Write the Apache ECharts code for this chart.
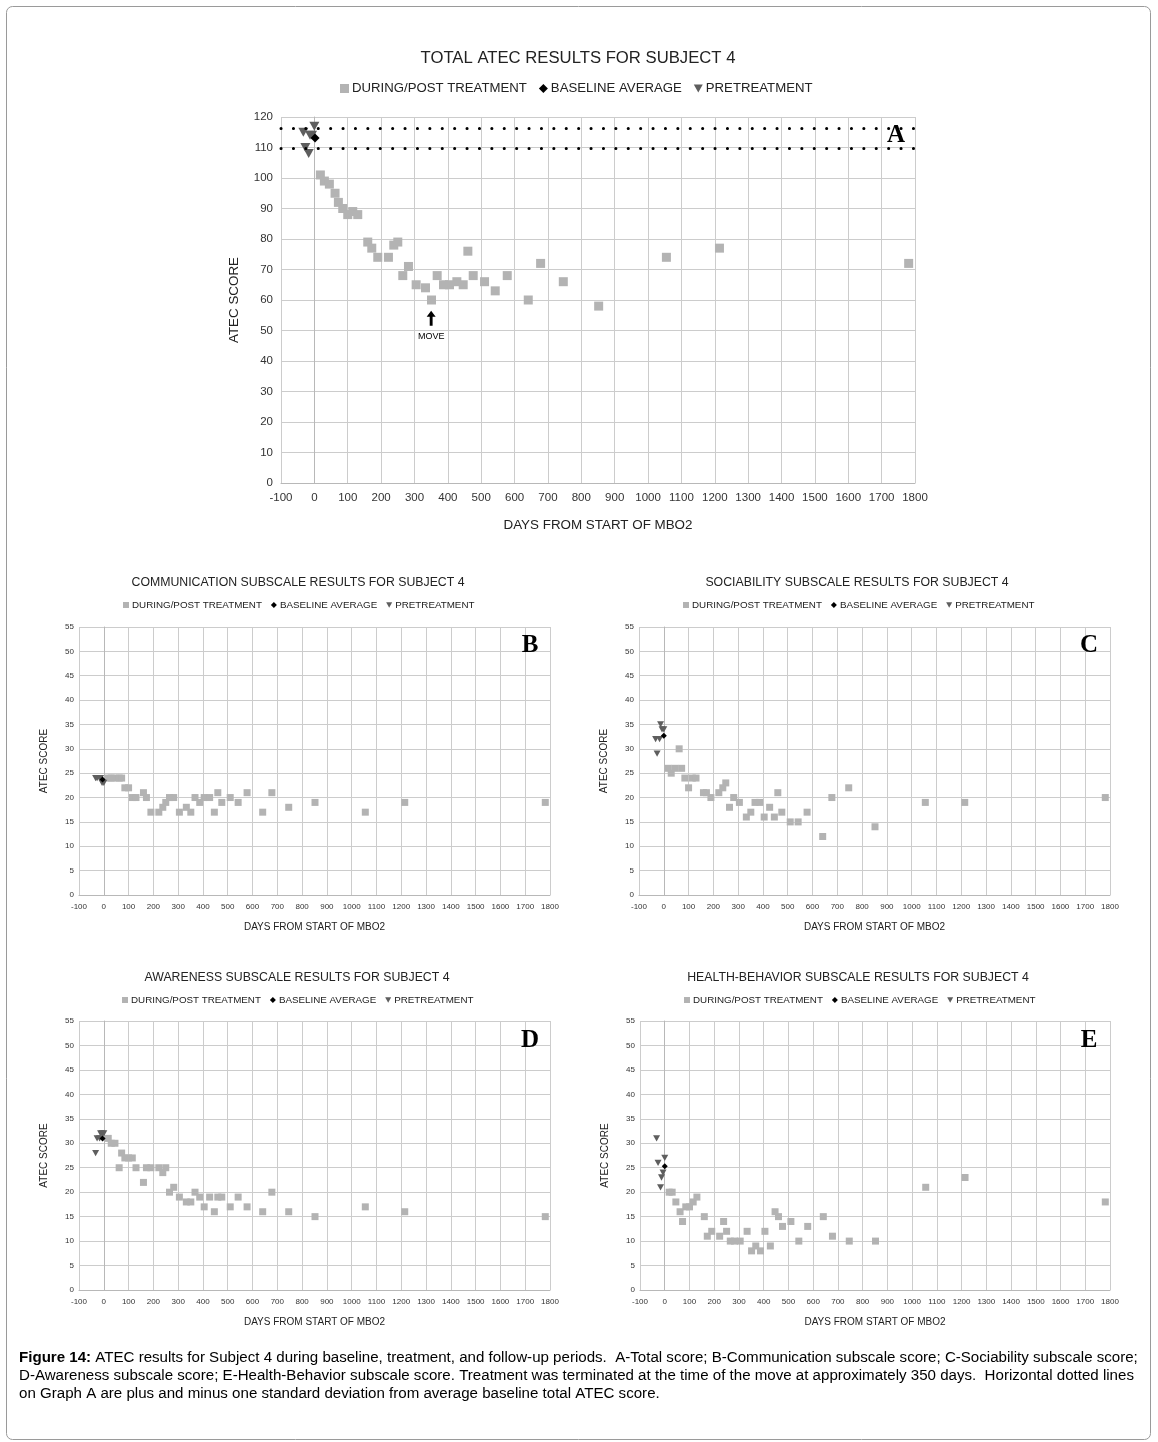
<!DOCTYPE html>
<html><head><meta charset="utf-8">
<script src="https://cdn.jsdelivr.net/npm/echarts@6/dist/echarts.min.js"></script>
<style>html,body{margin:0;padding:0;background:#fff}#c{width:1158px;height:1442px}</style>
</head><body><div id="c"></div>
<script>
// ---- data (days from start of MBO2) ----
const days = [18,30,45,62,72,85,100,115,130,160,172,190,222,238,250,265,282,305,333,351,368,387,405,427,446,460,476,510,542,578,641,678,746,852,1055,1214,1781];
const totalScore     = [101,99,98,95,92,90,88,89,88,79,77,74,74,78,79,68,71,65,64,60,68,65,65,66,65,76,68,66,63,68,60,72,66,58,74,77,72];
const communication  = [24,24,24,24,24,22,22,20,20,21,20,17,17,18,19,20,20,17,18,17,20,19,20,20,17,21,19,20,19,21,17,21,18,19,17,19,19];
const sociability    = [26,25,26,30,26,24,22,24,24,21,21,20,21,22,23,18,20,19,16,17,19,19,16,18,16,21,17,15,15,17,12,20,22,14,19,19,20];
const awareness      = [31,30,30,25,28,27,27,27,25,22,25,25,25,24,25,20,21,19,18,18,20,19,17,19,16,19,19,17,19,17,16,20,16,15,17,16,15];
const healthBehavior = [20,20,18,16,14,17,17,18,19,15,11,12,11,14,12,10,10,10,12,8,9,8,12,9,16,15,13,14,10,13,15,11,10,10,21,23,18];

const preDays = [-33,-27,-17,-13,-7,0];
const preTotal    = [115,110,108,114,114,117];
const preComm     = [24,24,24,24,23,23];
const preSoc      = [32,29,32,35,34,34];
const preAware    = [28,31,31,32,32,32];
const preHealth   = [31,26,21,23,24,27];

const baseDays   = [2,-5,0,-5,0];
const baseValues = [113.1,23.7,32.7,31,25.3];

const sdLines  = [116.3,109.9];   // +/- 1 SD of baseline total
const moveMark = [350,54];        // "MOVE" arrow position (day, score)

const xTicks = {min:-100,max:1800,interval:100};
const names = ['DURING/POST TREATMENT','BASELINE AVERAGE','PRETREATMENT'];

// ---- layout ----
const FF = 'Liberation Sans';
const tri = 'path://M0,0L10,0L5,9Z';
const panels = [
 {letter:'A',title:'TOTAL ATEC RESULTS FOR SUBJECT 4',vals:totalScore,pre:preTotal,yMax:120,yInt:10,
  grid:{left:281,top:117,width:634,height:366},tx:578,ty:58,tf:16.7,lx:340,ly:82,lf:13.2,li:9,
  lab:11.5,nameF:13.4,yGap:40,xGap:36,lm:9,ym:8,sq:9,tr:10,dm:9,letX:896,letY:136},
 {letter:'B',title:'COMMUNICATION SUBSCALE RESULTS FOR SUBJECT 4',vals:communication,pre:preComm,yMax:55,yInt:5,
  grid:{left:79,top:627,width:471,height:268},tx:298,ty:583,tf:12.3,lx:123,ly:600,lf:9.8,li:6,
  lab:8,nameF:10,yGap:30,xGap:27,lm:8,ym:5,sq:7,tr:7,dm:6,letX:530,letY:646},
 {letter:'C',title:'SOCIABILITY SUBSCALE RESULTS FOR SUBJECT 4',vals:sociability,pre:preSoc,yMax:55,yInt:5,
  grid:{left:639,top:627,width:471,height:268},tx:857,ty:583,tf:12.3,lx:683,ly:600,lf:9.8,li:6,
  lab:8,nameF:10,yGap:30,xGap:27,lm:8,ym:5,sq:7,tr:7,dm:6,letX:1089,letY:646},
 {letter:'D',title:'AWARENESS SUBSCALE RESULTS FOR SUBJECT 4',vals:awareness,pre:preAware,yMax:55,yInt:5,
  grid:{left:79,top:1021,width:471,height:269},tx:297,ty:978,tf:12.3,lx:122,ly:995,lf:9.8,li:6,
  lab:8,nameF:10,yGap:30,xGap:27,lm:8,ym:5,sq:7,tr:7,dm:6,letX:530,letY:1041},
 {letter:'E',title:'HEALTH-BEHAVIOR SUBSCALE RESULTS FOR SUBJECT 4',vals:healthBehavior,pre:preHealth,yMax:55,yInt:5,
  grid:{left:640,top:1021,width:470,height:269},tx:858,ty:978,tf:12.3,lx:684,ly:995,lf:9.8,li:6,
  lab:8,nameF:10,yGap:30,xGap:27,lm:8,ym:5,sq:7,tr:7,dm:6,letX:1089,letY:1041}
];

const grids=[],xAxes=[],yAxes=[],series=[],legends=[],graphics=[];
const gridColor='#cccccc';
const plain = v => String(v);
panels.forEach((p,i)=>{
  grids.push(Object.assign({containLabel:false},p.grid));
  xAxes.push({type:'value',gridIndex:i,min:xTicks.min,max:xTicks.max,interval:xTicks.interval,
    name:'DAYS FROM START OF MBO2',nameLocation:'middle',nameGap:p.xGap,
    nameTextStyle:{fontFamily:FF,fontSize:p.nameF,color:'#222'},
    axisLine:{show:true,lineStyle:{color:'#b8b8b8'}},axisTick:{show:false},
    axisLabel:{fontFamily:FF,fontSize:p.lab,color:'#333',margin:p.lm,formatter:plain},
    splitLine:{show:true,lineStyle:{color:gridColor,width:1}}});
  yAxes.push({type:'value',gridIndex:i,min:0,max:p.yMax,interval:p.yInt,
    name:'ATEC SCORE',nameLocation:'middle',nameGap:p.yGap,
    nameTextStyle:{fontFamily:FF,fontSize:p.nameF,color:'#222'},
    axisLine:{show:true,lineStyle:{color:'#b8b8b8'}},axisTick:{show:false},
    axisLabel:{fontFamily:FF,fontSize:p.lab,color:'#333',margin:p.ym,formatter:plain},
    splitLine:{show:true,lineStyle:{color:gridColor,width:1}}});
  const treat={type:'scatter',name:names[0],xAxisIndex:i,yAxisIndex:i,symbol:'rect',symbolSize:p.sq,
    itemStyle:{color:'#b3b3b3',opacity:1},z:2,data:days.map((d,j)=>[d,p.vals[j]])};
  if(i===0){
    treat.markPoint={silent:true,symbol:'path://M5,0L10,6L6.6,6L6.6,15L3.4,15L3.4,6L0,6Z',symbolSize:[9,15],
      itemStyle:{color:'#000'},
      label:{show:true,position:'bottom',distance:6,formatter:'MOVE',fontFamily:FF,fontSize:9,color:'#000'},
      data:[{coord:moveMark}]};
  }
  series.push(treat);
  series.push({type:'scatter',name:names[2],xAxisIndex:i,yAxisIndex:i,symbol:tri,symbolSize:[p.tr,p.tr*0.9],
    itemStyle:{color:'#5e5e5e',opacity:1},z:3,data:preDays.map((d,j)=>[d,p.pre[j]])});
  const base={type:'scatter',name:names[1],xAxisIndex:i,yAxisIndex:i,symbol:'diamond',symbolSize:p.dm,
    itemStyle:{color:'#000',opacity:1},z:4,data:[[baseDays[i],baseValues[i]]]};
  if(i===0){
    base.markLine={silent:true,symbol:['none','none'],label:{show:false},
      lineStyle:{color:'#000',width:3,type:[0.1,12.3],cap:'round'},
      data:sdLines.map(v=>({yAxis:v}))};
  }
  series.push(base);
  legends.push({left:p.lx,top:p.ly,padding:0,itemWidth:p.li,itemHeight:p.li,itemGap:p.li+3,selectedMode:false,
    textStyle:{fontFamily:FF,fontSize:p.lf,color:'#222',padding:[0,0,0,-2]},
    data:[{name:names[0],icon:'rect'},{name:names[1],icon:'diamond'},{name:names[2],icon:tri}]});
  graphics.push({type:'text',x:p.tx,y:p.ty,silent:true,
    style:{text:p.title,fontFamily:FF,fontSize:p.tf,fill:'#222',align:'center',verticalAlign:'middle'}});
  graphics.push({type:'text',x:p.letX,y:p.letY,silent:true,z:10,
    style:{text:p.letter,fontFamily:'Liberation Serif',fontWeight:'bold',fontSize:25,fill:'#000',align:'center',verticalAlign:'middle'}});
});

const captionLines = [
 '{b|Figure 14:} ATEC results for Subject 4 during baseline, treatment, and follow-up periods.  A-Total score; B-Communication subscale score; C-Sociability subscale score;',
 'D-Awareness subscale score; E-Health-Behavior subscale score. Treatment was terminated at the time of the move at approximately 350 days.  Horizontal dotted lines',
 'on Graph A are plus and minus one standard deviation from average baseline total ATEC score.'
];
captionLines.forEach((t,k)=>{
  graphics.push({type:'text',x:19,y:1358+k*18,silent:true,
    style:{text:t,fontFamily:FF,fontSize:15.1,fill:'#000',align:'left',verticalAlign:'middle',
      rich:{b:{fontFamily:FF,fontSize:15.1,fontWeight:'bold',fill:'#000'}}}});
});
graphics.push({type:'rect',silent:true,shape:{x:6.5,y:6.5,width:1144,height:1433,r:6},
  style:{fill:'none',stroke:'#9a9a9a',lineWidth:1}});

const chart = echarts.init(document.getElementById('c'),null,{renderer:'canvas'});
chart.setOption({animation:false,backgroundColor:'#fff',grid:grids,xAxis:xAxes,yAxis:yAxes,
  legend:legends,series:series,graphic:graphics});
</script></body></html>
